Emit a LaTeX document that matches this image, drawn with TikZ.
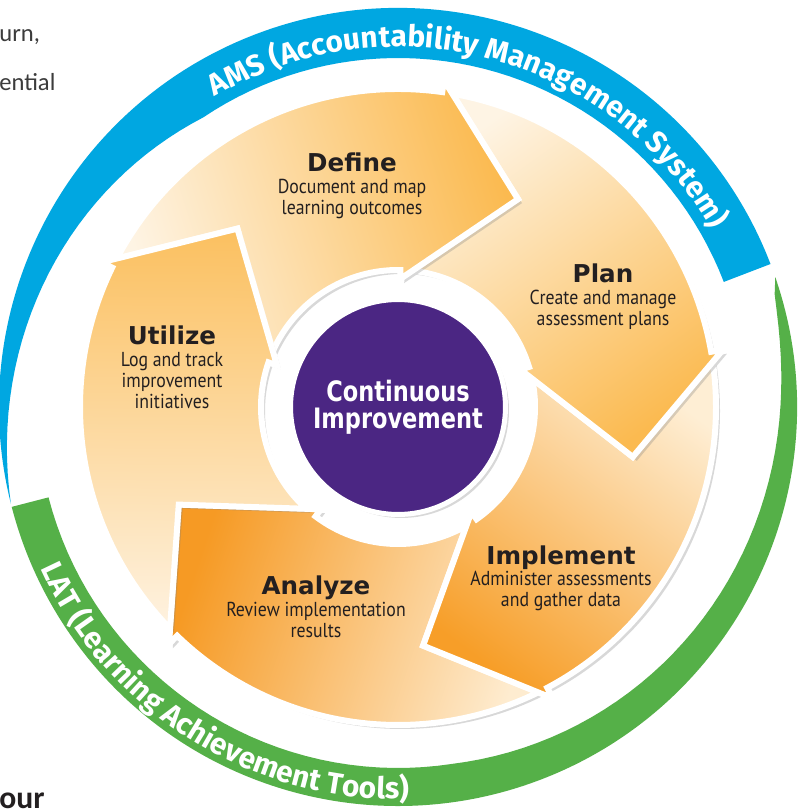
\documentclass[tikz,border=0pt]{standalone}
\usepackage{fontspec}
\setmainfont{Carlito}
\newfontfamily\titlefont{DejaVu Sans}
\newfontfamily\centerfont{DejaVu Sans}[FakeStretch=0.8]
\newfontfamily\subfont{PT Sans}[FakeStretch=0.88]
\newfontfamily\bandfont{Fira Sans}
\usetikzlibrary{
  positioning,
  shadows,
  decorations.text
}

\definecolor{amsBlue}{RGB}{0,167,225}
\definecolor{latGreen}{RGB}{85,176,72}
\definecolor{ciPurple}{RGB}{75,38,131}
\definecolor{inkBlack}{RGB}{35,31,32}
\definecolor{pageGray}{RGB}{60,60,60}
\definecolor{defineDark}{RGB}{251,186,80}
\definecolor{defineLight}{RGB}{254,244,228}
\definecolor{planDark}{RGB}{251,186,80}
\definecolor{planLight}{RGB}{254,244,228}
\definecolor{implementDark}{RGB}{247,158,40}
\definecolor{implementLight}{RGB}{254,238,212}
\definecolor{analyzeDark}{RGB}{246,154,36}
\definecolor{analyzeLight}{RGB}{254,236,208}
\definecolor{utilizeDark}{RGB}{251,192,96}
\definecolor{utilizeLight}{RGB}{254,242,224}

\begin{document}
\begin{tikzpicture}[
    x=0.02cm,y=0.02cm,
    stageArrow/.style={draw=white,line width=0.12cm,miter limit=5,
      drop shadow={shadow xshift=0.08cm,shadow yshift=-0.08cm,opacity=0.3}},
    stageTitle/.style={font=\titlefont\bfseries\fontsize{14}{16}\selectfont,text=inkBlack,inner sep=0pt,anchor=base},
    stageText/.style={font=\subfont\fontsize{11.5}{12}\selectfont,text=inkBlack,align=center,inner sep=0pt},
    pageText/.style={font=\fontsize{14}{16}\selectfont,text=pageGray,inner sep=0pt,anchor=base west},
    bandText/.style={decorate,decoration={text along path,text align=center,text color=white,
      text={|\bandfont\bfseries\fontsize{17}{17}\selectfont|#1}}}
  ]
    \fill[white] (-398,-403) rectangle (402,407);
    \useasboundingbox (-398,-403) rectangle (402,407);

    % page text around the figure
    \node[pageText] (turnText) at (-399,365) {urn,};
    \node[pageText] (potentialText) at (-399,316) {ential};
    \node[pageText,font=\bfseries\fontsize{18}{18}\selectfont,text=inkBlack] (ourText) at (-399,-401) {our};

    % outer bands
    \fill[amsBlue] (21:399) arc[start angle=21,end angle=194,radius=399]
      -- plot[domain=194:21,samples=80] (\x:{399-50*min(1,(194-\x)/70)}) -- cycle;
    \fill[latGreen] (19:399) arc[start angle=19,end angle=-165.5,radius=399]
      -- plot[domain=-165.5:19,samples=80] (\x:{399-38*sqrt(max(0,min(1,(19-\x)/100)))}) -- cycle;
    \path[bandText={AMS (Accountability Management System)}]
      (165:360) arc[start angle=165,end angle=-15,radius=360];
    \path[bandText={LAT (Learning Achievement Tools)}]
      (178:392) arc[start angle=178,end angle=298,radius=392];

    % cycle arrows
    \draw[stageArrow,top color=analyzeLight,bottom color=analyzeDark,shading angle=-108.5]
      (-63.8:318) arc[start angle=-63.8,end angle=-134,radius=318] -- (-134:330) -- (-156:240)
      -- (-127:128) -- (-127:137) arc[start angle=-127,end angle=-60,radius=137] -- (-84:240) -- cycle;
    \draw[stageArrow,top color=implementLight,bottom color=implementDark,shading angle=-36.5]
      (8.2:318) arc[start angle=8.2,end angle=-62,radius=318] -- (-62:330) -- (-84:240)
      -- (-55:128) -- (-55:137) arc[start angle=-55,end angle=12,radius=137] -- (-12:240) -- cycle;
    \draw[stageArrow,top color=planLight,bottom color=planDark,shading angle=35.5]
      (80.2:318) arc[start angle=80.2,end angle=10,radius=318] -- (10:330) -- (-12:240)
      -- (17:128) -- (17:137) arc[start angle=17,end angle=84,radius=137] -- (60:240) -- cycle;
    \draw[stageArrow,top color=defineLight,bottom color=defineDark,shading angle=107.5]
      (152.2:318) arc[start angle=152.2,end angle=82,radius=318] -- (82:330) -- (60:240)
      -- (89:128) -- (89:137) arc[start angle=89,end angle=156,radius=137] -- (132:240) -- cycle;
    \draw[stageArrow,top color=utilizeLight,bottom color=utilizeDark,shading angle=179.5]
      (224.2:318) arc[start angle=224.2,end angle=154,radius=318] -- (154:330) -- (132:240)
      -- (161:128) -- (161:137) arc[start angle=161,end angle=228,radius=137] -- (204:240) -- cycle;

    % hub
    \node[circle,fill=ciPurple,draw=white,line width=0.1cm,minimum size=4.3cm,inner sep=0pt,
      drop shadow={shadow xshift=0.07cm,shadow yshift=-0.07cm,opacity=0.3},
      font=\centerfont\bfseries\fontsize{16}{15.4}\selectfont,text=white,align=center] (hub) at (0,0)
      {Continuous\\Improvement};

    % stage labels
    \node[stageTitle] (defineTitle) at (-46,235) {Define};
    \node[stageText,below=4pt of defineTitle.base] (defineText) {Document and map\\learning outcomes};
    \node[stageTitle] (planTitle) at (205,124) {Plan};
    \node[stageText,below=4pt of planTitle.base] (planText) {Create and manage\\assessment plans};
    \node[stageTitle] (implementTitle) at (163,-157) {Implement};
    \node[stageText,below=4pt of implementTitle.base] (implementText) {Administer assessments\\and gather data};
    \node[stageTitle] (analyzeTitle) at (-82,-188) {Analyze};
    \node[stageText,below=4pt of analyzeTitle.base] (analyzeText) {Review implementation\\results};
    \node[stageTitle] (utilizeTitle) at (-226,62) {Utilize};
    \node[stageText,below=4pt of utilizeTitle.base] (utilizeText) {Log and track\\improvement\\initiatives};
\end{tikzpicture}
\end{document}
